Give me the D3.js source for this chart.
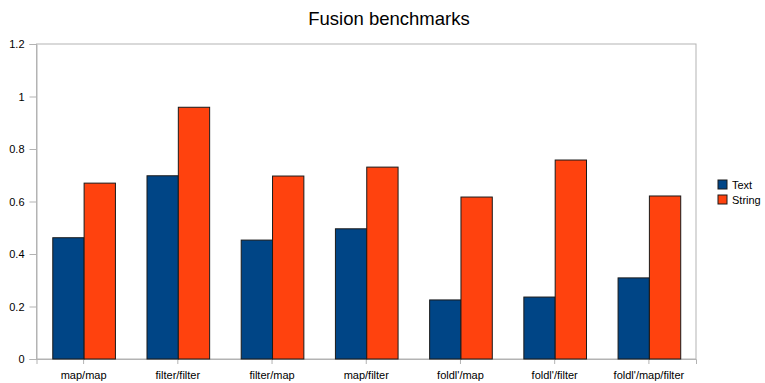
<!DOCTYPE html>
<html><head><meta charset="utf-8">
<script src="https://cdn.jsdelivr.net/npm/d3@7"></script>
<style>body{margin:0;background:#fff}svg{display:block;font-family:"Liberation Sans",Arial,sans-serif}</style>
</head><body>
<script>
const categories = ["map/map","filter/filter","filter/map","map/filter","foldl'/map","foldl'/filter","foldl'/map/filter"];
const seriesNames = ["Text","String"];
const textValues = [0.462,0.698,0.453,0.496,0.225,0.236,0.309];
const stringValues = [0.670,0.959,0.697,0.731,0.617,0.758,0.621];
const yTicks = [0,0.2,0.4,0.6,0.8,1,1.2];
const colors = ["#004586","#ff420e"];

const W=765,H=383;
const m={l:36.5,r:696,t:44,b:359};
const svg=d3.select("body").append("svg").attr("width",W).attr("height",H);
const x=d3.scaleBand().domain(categories).range([m.l,m.r]).paddingInner(0.335).paddingOuter(0.1675);
const xs=d3.scaleBand().domain(seriesNames).range([0,x.bandwidth()]);
const y=d3.scaleLinear().domain([0,1.2]).range([m.b,m.t]);

svg.append("text").attr("x",389).attr("y",25).attr("text-anchor","middle")
  .attr("font-size",18.5).attr("fill","#000").text("Fusion benchmarks");

// plot frame
svg.append("rect").attr("x",m.l).attr("y",m.t).attr("width",m.r-m.l).attr("height",m.b-m.t)
  .attr("fill","none").attr("stroke","#b3b3b3");

const yAxis=svg.append("g").attr("transform",`translate(${m.l},0)`)
  .call(d3.axisLeft(y).tickValues(yTicks).tickSize(7).tickPadding(5).tickFormat(d=>String(d)));
yAxis.select(".domain").attr("stroke","#b3b3b3");
yAxis.selectAll(".tick line").attr("stroke","#b3b3b3");
yAxis.selectAll("text").attr("font-size",11).attr("fill","#000").attr("font-family","Liberation Sans, Arial, sans-serif");

const xAxis=svg.append("g").attr("transform",`translate(0,${m.b})`)
  .call(d3.axisBottom(x).tickSize(5).tickPadding(7));
xAxis.select(".domain").attr("stroke","#b3b3b3");
xAxis.selectAll(".tick line").attr("stroke","#b3b3b3");
xAxis.selectAll("text").attr("font-size",11).attr("fill","#000").attr("font-family","Liberation Sans, Arial, sans-serif");

const data=categories.map((c,i)=>({c,vals:[textValues[i],stringValues[i]]}));
const g=svg.append("g").selectAll("g").data(data).join("g").attr("transform",d=>`translate(${x(d.c)},0)`);
g.selectAll("rect").data(d=>d.vals.map((v,j)=>({v,s:seriesNames[j],j}))).join("rect")
  .attr("x",d=>xs(d.s)+0.5).attr("y",d=>y(d.v)).attr("width",xs.bandwidth())
  .attr("height",d=>m.b-y(d.v)).attr("fill",d=>colors[d.j]).attr("stroke","#1a1a1a").attr("stroke-width",1);

const lg=svg.append("g").attr("transform","translate(718,185)");
seriesNames.forEach((s,i)=>{
  lg.append("rect").attr("x",0).attr("y",i*15-5).attr("width",9).attr("height",9)
    .attr("fill",colors[i]).attr("stroke","#1a1a1a");
  lg.append("text").attr("x",14).attr("y",i*15+4).attr("font-size",11).text(s);
});
</script>
</body></html>
